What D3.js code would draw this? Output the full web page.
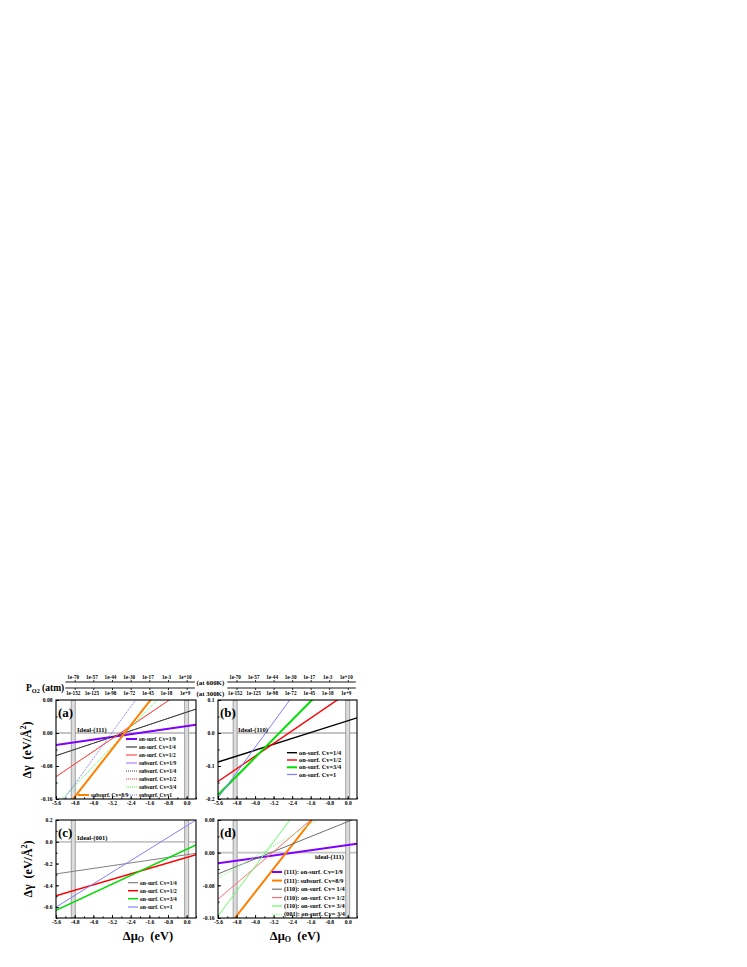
<!DOCTYPE html>
<html><head><meta charset="utf-8">
<script src="https://cdn.jsdelivr.net/npm/d3@7"></script>
<style>
body{margin:0;background:#fff}
svg{display:block}
text{font-family:"Liberation Serif","Times New Roman",serif;font-weight:bold;fill:#000}
</style>
</head><body><svg id="c" width="747" height="967"></svg>
<script>
// ---------------- data ----------------
const muTicks = [-5.6, -4.8, -4.0, -3.2, -2.4, -1.6, -0.8, 0.0];
const pTickMu = [-4.8, -4.0, -3.2, -2.4, -1.6, -0.8, 0.0];
const p600Labels = ["1e-70", "1e-57", "1e-44", "1e-30", "1e-17", "1e-3", "1e+10"];
const p300Labels = ["1e-152", "1e-125", "1e-98", "1e-72", "1e-45", "1e-18", "1e+9"];
const xEnds = [-5.6, 0.4];
const idealMu = [-4.86, 0.0];

const aSeries = ["on-surf. Cv=1/9", "on-surf. Cv=1/4", "on-surf. Cv=1/2", "subsurf. Cv=1/9", "subsurf. Cv=1/4", "subsurf. Cv=1/2", "subsurf. Cv=3/4", "subsurf. Cv=8/9", "subsurf. Cv=1"];
const aAtLeft  = [-0.029, -0.055, -0.106, -0.029, -0.055, -0.106, -0.175, -0.213, -0.187];
const aAtRight = [0.020, 0.058, 0.124, 0.020, 0.058, 0.124, 0.178, 0.221, 0.283];
const aYTicks = [-0.16, -0.08, 0.00, 0.08];

const bSeries = ["on-surf. Cv=1/4", "on-surf. Cv=1/2", "on-surf. Cv=3/4", "on-surf. Cv=1"];
const bAtLeft  = [-0.088, -0.147, -0.188, -0.197];
const bAtRight = [0.046, 0.141, 0.238, 0.378];
const bYTicks = [-0.2, -0.1, 0.0, 0.1];

const cSeries = ["on-surf. Cv=1/4", "on-surf. Cv=1/2", "on-surf. Cv=3/4", "on-surf. Cv=1"];
const cAtLeft  = [-0.295, -0.497, -0.630, -0.600];
const cAtRight = [-0.106, -0.118, -0.030, 0.200];
const cYTicks = [-0.6, -0.4, -0.2, 0.0, 0.2];

const dSeries = ["(111): on-surf. Cv=1/9", "(111): subsurf. Cv=8/9", "(110): on-surf. Cv= 1/4", "(110): on-surf. Cv= 1/2", "(110): on-surf. Cv= 3/4", "(001): on-surf. Cv= 3/4"];
const dAtLeft  = [-0.026, -0.213, -0.052, -0.114, -0.155, -0.063];
const dAtRight = [0.022, 0.221, 0.085, 0.177, 0.300, 0.136];
const dYTicks = [-0.16, -0.08, 0.00, 0.08];

// ---------------- styles ----------------
const aColors = ["#8000ff", "#3c3c3c", "#ff4c4c", "#b080ff", "#3c3c3c", "#ff3030", "#40ff40", "#ff8000", "#6f6fff"];
const aWidths = [2, 1, 1, 1, 1, 1, 1, 2, 1];
const aDash   = [null, null, null, null, "1,1", "1,1", "1,1", null, "1,1"];
const aOrder  = [3, 4, 5, 0, 1, 2, 6, 7, 8];
const bColors = ["#000000", "#ff0000", "#00e000", "#8080ff"];
const bWidths = [1.4, 1.4, 2, 1];
const cColors = ["#808080", "#ff0000", "#00dd00", "#8080ff"];
const cWidths = [1, 1.5, 1.5, 1];
const dColors = ["#8000ff", "#ff8000", "#707070", "#ff7070", "#66ff66", "#90ff90"];
const dWidths = [2, 2, 1, 1, 1, 1];
const dDash   = [null, null, null, null, null, "1.2,1"];

const svg = d3.select("#c");
const fmt = n => d => (Math.abs(d) < 1e-9 ? 0 : d).toFixed(n);

const panels = [
  {id:"a", L:56, R:196, T:700, B:799, yDom:[-0.16,0.08], yTicks:aYTicks, yMinor:0.04, dec:2,
   names:aSeries, left:aAtLeft, right:aAtRight, colors:aColors, widths:aWidths, dash:aDash, order:aOrder,
   ideal:"Ideal-(111)", idealX:77, idealY:731.5, legFont:5.5, legLen:11,
   legPos:[[126,739],[126,747],[126,755],[126,763],[126,771],[126,779],[126,787],[78,795],[126,795]]},
  {id:"b", L:218, R:357, T:700, B:799, yDom:[-0.2,0.1], yTicks:bYTicks, yMinor:0.05, dec:1,
   names:bSeries, left:bAtLeft, right:bAtRight, colors:bColors, widths:bWidths, dash:[null,null,null,null],
   ideal:"Ideal-(110)", idealX:238, idealY:731.5, legFont:6.3, legLen:10,
   legPos:[[287,752.7],[287,760],[287,767.3],[287,774.5]]},
  {id:"c", L:56, R:196, T:820, B:918, yDom:[-0.7,0.2], yTicks:cYTicks, yMinor:0.1, dec:1,
   names:cSeries, left:cAtLeft, right:cAtRight, colors:cColors, widths:cWidths, dash:[null,null,null,null],
   ideal:"Ideal-(001)", idealX:77, idealY:840, legFont:5.5, legLen:10,
   legPos:[[128,882.7],[128,890.7],[128,898.7],[128,907]]},
  {id:"d", L:218, R:357, T:820, B:918, yDom:[-0.16,0.08], yTicks:dYTicks, yMinor:0.04, dec:2,
   names:dSeries, left:dAtLeft, right:dAtRight, colors:dColors, widths:dWidths, dash:dDash,
   ideal:"ideal-(111)", idealX:315, idealY:858.5, legFont:6.3, legLen:10,
   legPos:[[272,872],[272,880.6],[272,889.2],[272,897.6],[272,906],[272,914.3]]}
];

const defs = svg.append("defs");

panels.forEach(p => {
  const x = d3.scaleLinear().domain(xEnds).range([p.L, p.R]);
  const y = d3.scaleLinear().domain(p.yDom).range([p.B, p.T]);
  p.x = x; p.y = y;
  defs.append("clipPath").attr("id", "clip-" + p.id)
    .append("rect").attr("x", p.L).attr("y", p.T).attr("width", p.R - p.L).attr("height", p.B - p.T);
  const g = svg.append("g");
  const inner = g.append("g").attr("clip-path", "url(#clip-" + p.id + ")");

  // reference lines
  inner.append("line").attr("x1", p.L).attr("x2", p.R).attr("y1", y(0)).attr("y2", y(0))
    .attr("stroke", "#c4c4c4").attr("stroke-width", 1.8);
  idealMu.forEach(m => {
    inner.append("rect").attr("x", x(m) - 2).attr("y", p.T).attr("width", 4).attr("height", p.B - p.T)
      .attr("fill", "#dcdcdc").attr("stroke", "#9a9a9a").attr("stroke-width", 0.9);
  });

  // series
  const line = d3.line().x(d => x(d[0])).y(d => y(d[1]));
  const order = p.order || p.names.map((n, i) => i);
  order.forEach(i => {
    const pts = [[xEnds[0], p.left[i]], [xEnds[1], p.right[i]]];
    inner.append("path").attr("d", line(pts)).attr("fill", "none")
      .attr("stroke", p.colors[i]).attr("stroke-width", p.widths[i])
      .attr("stroke-dasharray", p.dash[i]);
  });

  // axes
  const xMinor = d3.range(-5.6, 0.41, 0.4).map(v => +v.toFixed(2));
  const yMinor = d3.range(p.yDom[0], p.yDom[1] + 1e-9, p.yMinor).map(v => +v.toFixed(3));
  g.append("g").attr("transform", `translate(0,${p.B})`)
    .call(d3.axisBottom(x).tickValues(xMinor).tickSizeInner(-1.6).tickSizeOuter(0).tickFormat(""))
    .call(s => s.select(".domain").remove());
  g.append("g").attr("transform", `translate(${p.L},0)`)
    .call(d3.axisLeft(y).tickValues(yMinor).tickSizeInner(-1.6).tickSizeOuter(0).tickFormat(""))
    .call(s => s.select(".domain").remove());
  const ax = g.append("g").attr("transform", `translate(0,${p.B})`)
    .call(d3.axisBottom(x).tickValues(muTicks).tickSizeInner(-3).tickSizeOuter(0).tickPadding(2.2).tickFormat(fmt(1)));
  const ay = g.append("g").attr("transform", `translate(${p.L},0)`)
    .call(d3.axisLeft(y).tickValues(p.yTicks).tickSizeInner(-3).tickSizeOuter(0).tickPadding(3.5).tickFormat(fmt(p.dec)));
  [ax, ay].forEach(a => {
    a.select(".domain").remove();
    a.selectAll("text").attr("font-size", 5.6).attr("font-family", null);
    a.selectAll("line").attr("stroke-width", 0.9);
  });
  g.selectAll(".tick line").attr("stroke", "#000");

  // frame
  g.append("rect").attr("x", p.L).attr("y", p.T).attr("width", p.R - p.L).attr("height", p.B - p.T)
    .attr("fill", "none").attr("stroke", "#000").attr("stroke-width", 1.1);

  // labels
  g.append("text").attr("x", p.L + 2).attr("y", p.T + 16.5).attr("font-size", 13).text("(" + p.id + ")");
  g.append("text").attr("x", p.idealX).attr("y", p.idealY).attr("font-size", 6.5).text(p.ideal);

  // legend
  p.names.forEach((n, i) => {
    const [lx, ly] = p.legPos[i];
    g.append("line").attr("x1", lx).attr("x2", lx + p.legLen).attr("y1", ly).attr("y2", ly)
      .attr("stroke", p.colors[i]).attr("stroke-width", Math.max(p.widths[i], 1.2))
      .attr("stroke-dasharray", p.dash[i]);
    g.append("text").attr("x", lx + p.legLen + 2).attr("y", ly).attr("dy", "0.33em")
      .attr("font-size", p.legFont).style("white-space", "pre").text(n);
  });
});

// ---------------- header (oxygen pressure axes) ----------------
[panels[0], panels[1]].forEach(p => {
  const x = p.x;
  const hx = [x(-5.2), x(0.35)];
  const top = svg.append("g").attr("transform", "translate(0,682)")
    .call(d3.axisTop(x).tickValues(pTickMu).tickSizeInner(2).tickSizeOuter(0).tickPadding(1.2)
      .tickFormat((d, i) => p600Labels[i]));
  const bot = svg.append("g").attr("transform", "translate(0,688)")
    .call(d3.axisBottom(x).tickValues(pTickMu).tickSizeInner(2).tickSizeOuter(0).tickPadding(1.2)
      .tickFormat((d, i) => p300Labels[i]));
  [top, bot].forEach(a => {
    a.select(".domain").remove();
    a.selectAll("text").attr("font-size", 5.2).attr("font-family", null).attr("dx", -2);
    a.selectAll("line").attr("stroke", "#000").attr("stroke-width", 0.8);
  });
  svg.append("line").attr("x1", hx[0]).attr("x2", hx[1]).attr("y1", 682).attr("y2", 682).attr("stroke", "#000").attr("stroke-width", 0.9);
  svg.append("line").attr("x1", hx[0]).attr("x2", hx[1]).attr("y1", 688).attr("y2", 688).attr("stroke", "#000").attr("stroke-width", 0.9);
});
svg.append("text").attr("x", 196.5).attr("y", 684.8).attr("font-size", 6.9).text("(at 600K)");
svg.append("text").attr("x", 196.5).attr("y", 695.8).attr("font-size", 6.9).text("(at 300K)");

const po2 = svg.append("text").attr("x", 26).attr("y", 691).attr("font-size", 9.5);
po2.append("tspan").text("P");
po2.append("tspan").attr("font-size", 6.2).attr("dy", 1.5).text("O2");
po2.append("tspan").attr("dy", -1.5).style("white-space", "pre").text(" (atm)");

// y-axis titles
[[31, 750], [32, 869]].forEach(([cx, cy]) => {
  const t = svg.append("text").attr("transform", `translate(${cx},${cy}) rotate(-90)`)
    .attr("text-anchor", "middle").attr("font-size", 12).style("white-space", "pre");
  t.append("tspan").text("\u0394\u03b3  (eV/\u00c5");
  t.append("tspan").attr("font-size", 8).attr("dy", -5).text("2");
  t.append("tspan").attr("dy", 5).text(")");
});

// x-axis titles
[[148, 939.5], [295, 939.5]].forEach(([cx, cy]) => {
  const t = svg.append("text").attr("x", cx).attr("y", cy).attr("text-anchor", "middle")
    .attr("font-size", 12.5).style("white-space", "pre");
  t.append("tspan").text("\u0394\u03bc");
  t.append("tspan").attr("font-size", 8).attr("dy", 2.5).text("O");
  t.append("tspan").attr("dy", -2.5).text("  (eV)");
});
</script>
</body></html>
